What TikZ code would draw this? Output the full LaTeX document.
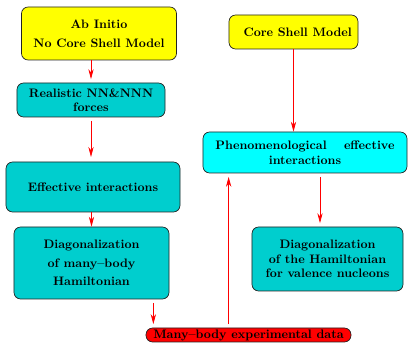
\documentclass[tikz,border=0pt]{standalone}
\usepackage{tikz}
\usetikzlibrary{arrows.meta}
\definecolor{yellowfill}{HTML}{FFFF00}
\definecolor{tealfill}{HTML}{00CECE}
\definecolor{cyanfill}{HTML}{00FFFF}
\definecolor{redfill}{HTML}{FF0000}
\definecolor{edge}{HTML}{222222}
\tikzset{
  box/.style={draw=edge, line width=0.6pt, rounded corners=0.2cm, align=center,
    font=\fontsize{10.5}{12.4}\selectfont\bfseries, inner sep=1pt},
  yellowbox/.style={box, fill=yellowfill},
  tealbox/.style={box, fill=tealfill},
  cyanbox/.style={box, fill=cyanfill},
  redpill/.style={box, fill=redfill, rounded corners=0.2cm, inner ysep=0pt},
  arr/.style={draw=red, line width=0.6pt, -{Stealth[length=8.5pt,width=4.5pt]}}
}

\begin{document}
\begin{tikzpicture}[x=0.03cm, y=-0.03cm]
  \useasboundingbox (0,0) rectangle (408,343);

  % left column: ab initio route
  \node[yellowbox, minimum width=4.65cm, minimum height=1.59cm] (abinit) at (99,33.5)
    {Ab Initio\\[3.5pt]No Core Shell Model};
  \node[tealbox, minimum width=4.44cm, minimum height=1.02cm] (nnforces) at (91,100)
    {Realistic NN\&NNN\\forces};
  \node[tealbox, minimum width=5.22cm, minimum height=1.5cm] (effint) at (93,187)
    {Effective interactions};
  \node[tealbox, minimum width=4.65cm, minimum height=2.16cm] (diagmb) at (91.5,263)
    {Diagonalization\\[3.5pt]of many--body\\[3.5pt]Hamiltonian};

  % right column: core shell model route
  \node[yellowbox, minimum width=3.87cm, minimum height=1.02cm] (coresm) at (293.5,32)
    {\hspace*{0.25cm}Core Shell Model};
  \node[cyanbox, minimum width=6.12cm, minimum height=1.23cm] (phenom) at (305,152.5)
    {\makebox[5.37cm][s]{Phenomenological effective}\\interactions};
  \node[tealbox, minimum width=4.53cm, minimum height=1.92cm] (diagval) at (327.5,259)
    {Diagonalization\\of the Hamiltonian\\for valence nucleons};

  \node[redpill, minimum width=6.15cm, minimum height=0.42cm] (expdata) at (248.5,335)
    {Many--body experimental data};

  % connectors
  \draw[arr, shorten >=3pt] (abinit.south -| nnforces.north) -- (nnforces.north);
  \draw[arr, shorten <=3pt, shorten >=4pt] (nnforces.south) -- (nnforces.south |- effint.north);
  \draw[arr] (diagmb.north |- effint.south) -- (diagmb.north);
  \draw[arr, shorten <=3pt, shorten >=3pt] ([xshift=-0.48cm]diagmb.south east)
    -- ([xshift=-0.48cm]diagmb.south east |- expdata.north);
  \draw[arr] (coresm.south) -- (coresm.south |- phenom.north);
  \draw[arr, shorten <=3pt, shorten >=3pt] ([xshift=-0.225cm]diagval.north |- phenom.south)
    -- ([xshift=-0.225cm]diagval.north);
  \draw[arr, shorten <=3pt, shorten >=3pt] ([xshift=2.49cm]expdata.north west)
    -- ([xshift=2.49cm]expdata.north west |- phenom.south);
\end{tikzpicture}
\end{document}
